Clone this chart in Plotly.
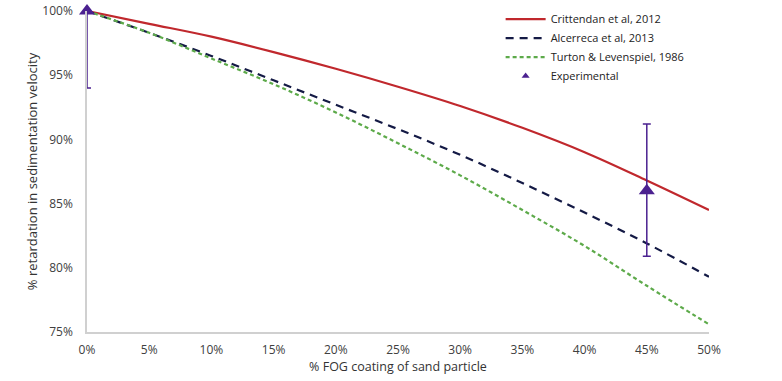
import plotly.graph_objects as go

x_model = [0, 5, 10, 15, 20, 25, 30, 35, 40, 45, 50]
crittendan = [100, 99.0, 98.0, 96.8, 95.5, 94.1, 92.6, 90.9, 89.0, 86.8, 84.5]
alcerreca = [100, 98.3, 96.5, 94.6, 92.7, 90.8, 88.8, 86.6, 84.3, 81.9, 79.3]
turton = [100, 98.3, 96.3, 94.3, 92.1, 89.7, 87.2, 84.5, 81.7, 78.6, 75.6]

x_exp = [0, 45]
y_exp = [100, 86.0]
err_plus = [0, 5.2]
err_minus = [6.0, 5.1]

x_ticks = [0, 5, 10, 15, 20, 25, 30, 35, 40, 45, 50]
y_ticks = [75, 80, 85, 90, 95, 100]

font = "Open Sans, Liberation Sans, sans-serif"
purple = "#4B2190"

fig = go.Figure()
fig.add_trace(go.Scatter(x=x_model, y=crittendan, mode="lines", name="Crittendan et al, 2012",
                         line=dict(color="#C0282D", width=2.2, shape="spline")))
fig.add_trace(go.Scatter(x=x_model, y=alcerreca, mode="lines", name="Alcerreca et al, 2013",
                         line=dict(color="#141A45", width=2.2, dash="8px,6px", shape="spline")))
fig.add_trace(go.Scatter(x=x_model, y=turton, mode="lines", name="Turton & Levenspiel, 1986",
                         line=dict(color="#5DAA4A", width=2.2, dash="4px,3px", shape="spline")))
fig.add_trace(go.Scatter(x=x_exp, y=y_exp, mode="markers", name="Experimental", showlegend=False,
                         marker=dict(symbol="triangle-up", size=14, color=purple),
                         error_y=dict(type="data", array=err_plus, arrayminus=err_minus,
                                      color=purple, thickness=1.5, width=4),
                         cliponaxis=False))
# legend entry with the small legend symbol of the reference
fig.add_trace(go.Scatter(x=[None], y=[None], mode="markers", name="Experimental",
                         marker=dict(symbol="triangle-up", size=7, color=purple)))

fig.update_layout(
    width=782, height=381,
    paper_bgcolor="white", plot_bgcolor="white",
    margin=dict(l=87, r=73, t=11, b=49, autoexpand=False),
    font=dict(family=font, size=12, color="#404040"),
    showlegend=True,
    legend=dict(x=0.665, y=1.02, xanchor="left", yanchor="top",
                bgcolor="rgba(0,0,0,0)", font=dict(size=11, color="#222222"),
                tracegroupgap=0, itemwidth=40),
    xaxis=dict(range=[0, 50], tickvals=x_ticks, ticktext=[f"{v}%" for v in x_ticks],
               showgrid=False, zeroline=False, showline=True, linecolor="#D0D0D0", linewidth=1.5,
               ticks="", ticklabelstandoff=6,
               title=dict(text="% FOG coating of sand particle", standoff=4,
                          font=dict(size=12.5, color="#333333"))),
    yaxis=dict(range=[75, 100], tickvals=y_ticks, ticktext=[f"{v}%" for v in y_ticks],
               showgrid=False, zeroline=False, showline=True, linecolor="#D0D0D0", linewidth=1.5,
               ticks="", ticklabelstandoff=10,
               title=dict(text="% retardation in sedimentation velocity", standoff=2,
                          font=dict(size=13, color="#333333"))),
)

fig.write_html("out.html", config={"displayModeBar": False},
               post_script="document.body.style.margin='0px';")
